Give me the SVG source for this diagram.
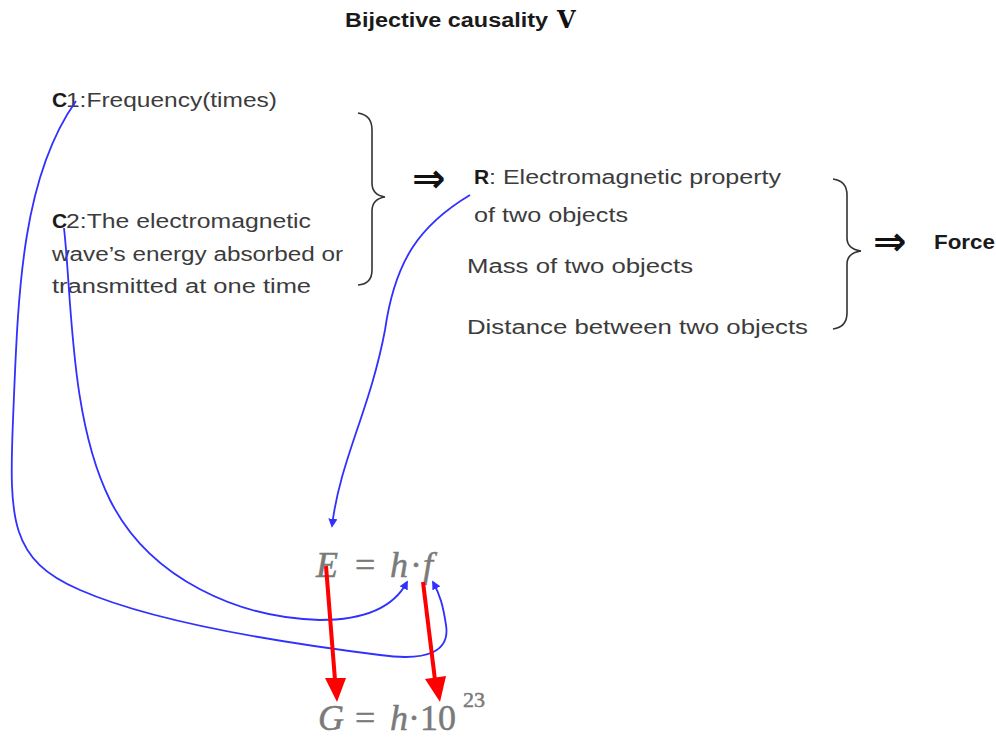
<svg xmlns="http://www.w3.org/2000/svg" width="996" height="738" viewBox="0 0 996 738">
<defs>
<style>
.t{font-family:"Liberation Sans",Arial,sans-serif;font-size:19.5px;fill:#3c3c3c}
.b{font-weight:bold;fill:#1a1a1a}
.eq{font-family:"Liberation Serif","Times New Roman",serif;font-size:36px;fill:#7a7a7a;stroke:#7a7a7a;stroke-width:0.5}
.it{font-style:italic}
.brace{fill:none;stroke:#333;stroke-width:1.6}
.blue{fill:none;stroke:#3030ff;stroke-width:1.8}
.red{stroke:#ff0000;stroke-width:4;fill:none}
.dbl{font-family:"DejaVu Sans",sans-serif;font-weight:bold;font-size:40px;fill:#111}
</style>
<marker id="bh" viewBox="0 0 10 10" refX="8" refY="5" markerWidth="5" markerHeight="5" orient="auto"><path d="M0,0 L10,5 L0,10 z" fill="#3030ff"/></marker>
</defs>
<rect width="996" height="738" fill="#fff"/>
<g id="title">
<text class="t b" x="345" y="27" style="font-size:20px" textLength="203" lengthAdjust="spacingAndGlyphs">Bijective causality</text>
<text x="557" y="28" style="font-family:'DejaVu Serif',serif;font-weight:bold;font-size:24px;fill:#111">V</text>
</g>
<g id="c1">
<text class="t" x="52" y="107"><tspan style="font-weight:bold;fill:#1a1a1a;font-size:21px">C</tspan><tspan x="66" textLength="211" lengthAdjust="spacingAndGlyphs">1:Frequency(times)</tspan></text>
</g>
<g id="c2">
<text class="t" x="52" y="228"><tspan style="font-weight:bold;fill:#1a1a1a;font-size:21px">C</tspan><tspan x="66" textLength="245" lengthAdjust="spacingAndGlyphs">2:The electromagnetic</tspan></text>
<text class="t" x="52" y="261" textLength="291" lengthAdjust="spacingAndGlyphs">wave’s energy absorbed or</text>
<text class="t" x="52" y="293" textLength="259" lengthAdjust="spacingAndGlyphs">transmitted at one time</text>
</g>
<g id="brace1"><path class="brace" d="M358,113 Q372,115 372,130 L372,183 Q372,195 385,197 Q372,199 372,211 L372,270 Q372,284 358,285"/></g>
<g id="arrow1"><text class="dbl" x="412" y="192">⇒</text></g>
<g id="r">
<text class="t" x="474" y="184"><tspan style="font-weight:bold;fill:#1a1a1a;font-size:21px">R</tspan><tspan x="489" textLength="292" lengthAdjust="spacingAndGlyphs">: Electromagnetic property</tspan></text>
<text class="t" x="474" y="222" textLength="154" lengthAdjust="spacingAndGlyphs">of two objects</text>
</g>
<g id="mass"><text class="t" x="467" y="273" textLength="226" lengthAdjust="spacingAndGlyphs">Mass of two objects</text></g>
<g id="distance"><text class="t" x="467" y="334" textLength="341" lengthAdjust="spacingAndGlyphs">Distance between two objects</text></g>
<g id="brace2"><path class="brace" d="M833,179 Q847,181 847,195 L847,238 Q847,249 861,251 Q847,253 847,264 L847,313 Q847,327 833,329"/></g>
<g id="arrow2"><text class="dbl" x="873" y="255">⇒</text></g>
<g id="force"><text class="t b" x="934" y="249" textLength="61" lengthAdjust="spacingAndGlyphs">Force</text></g>
<g id="eq1">
<text class="eq" x="316" y="577"><tspan class="it">E</tspan><tspan x="355">=</tspan><tspan x="390" class="it">h</tspan><tspan x="410">·</tspan><tspan x="423" class="it">f</tspan></text>
</g>
<g id="eq2">
<text class="eq" x="318" y="730"><tspan class="it">G</tspan><tspan x="355">=</tspan><tspan x="390" class="it">h</tspan><tspan>·10</tspan><tspan x="463" y="707" style="font-size:22px">23</tspan></text>
</g>
<g id="connectors">
<path class="blue" marker-end="url(#bh)" d="M470,195 C420,225 395,260 385,330 C370,410 340,460 332,526"/>
<path class="blue" marker-end="url(#bh)" d="M64,228 C72,300 70,420 110,500 C150,580 240,618 320,620 C370,620 395,605 407,582"/>
<path class="blue" marker-end="url(#bh)" d="M76,101 C20,180 18,300 13,420 C9,520 10,560 80,590 C160,625 300,645 380,655 C430,662 450,650 446,625 C443,605 440,595 433,582"/>
<line class="red" x1="326" y1="566" x2="335" y2="680"/>
<path d="M325,678 L346,678 L337,702 z" fill="#ff0000"/>
<line class="red" x1="423" y1="582" x2="435" y2="680"/>
<path d="M425,679 L446,676 L440,702 z" fill="#ff0000"/>
</g>
</svg>
